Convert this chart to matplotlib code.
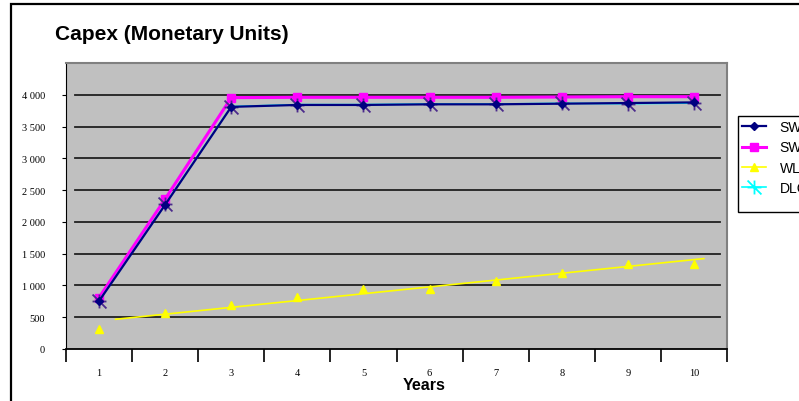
import matplotlib.pyplot as plt
import numpy as np
from matplotlib.patches import Rectangle
from matplotlib.path import Path


YEARS = [1, 2, 3, 4, 5, 6, 7, 8, 9, 10]
SW1 = [755, 2270, 3810, 3840, 3840, 3850, 3850, 3860, 3870, 3880]
SW2 = [810, 2360, 3955, 3960, 3960, 3960, 3960, 3965, 3970, 3970]
WLL = [320, 573, 698, 818, 948, 941, 1070, 1199, 1334, 1334]
DLC = [760, 2275, 3815, 3845, 3845, 3855, 3855, 3865, 3860, 3870]
Y_TICKS = [0, 500, 1000, 1500, 2000, 2500, 3000, 3500, 4000]

SANS = "Liberation Sans"
SERIF = "Liberation Serif"

# Excel-style star: plus sign with one diagonal stroke
STAR = Path(
    [(0, -1), (0, 1), (-1, 0), (1, 0), (-1, 1), (1, -1)],
    [Path.MOVETO, Path.LINETO, Path.MOVETO, Path.LINETO, Path.MOVETO, Path.LINETO],
)


def thousands(v):
    return f"{v:,.0f}".replace(",", " ")


def main():
    W, H = 799, 402
    fig = plt.figure(figsize=(W / 100, H / 100), dpi=100)

    # outer chart frame (runs off the right and bottom edges)
    fig.patches.append(Rectangle((11 / W, -0.2), 1.2, 1.2 - 5 / H,
                                 transform=fig.transFigure, fill=False,
                                 edgecolor="black", linewidth=1.6))

    ax = fig.add_axes([66 / W, 1 - 350 / H, (727 - 66) / W, (350 - 64) / H])
    ax.set_facecolor("#c0c0c0")
    ax.set_xlim(0.5, 10.5)
    ax.set_ylim(0, 4500)

    for side in ("top", "right"):
        ax.spines[side].set_color("#808080")
        ax.spines[side].set_linewidth(1.5)
    ax.spines["left"].set_color("black")
    ax.spines["bottom"].set_color("black")
    ax.spines["bottom"].set_linewidth(1.3)

    for v in Y_TICKS[1:]:
        ax.axhline(v, xmin=0.013, xmax=0.99, color="#202020", linewidth=1.3, zorder=1)

    # category boundaries carry the tick marks, centres carry the labels
    ax.set_xticks(np.arange(0.5, 11, 1))
    ax.set_xticklabels([])
    ax.tick_params(axis="x", which="major", direction="out", length=9, width=1.2)
    ax.set_xticks(YEARS, minor=True)
    ax.set_xticklabels([str(y) for y in YEARS], minor=True, fontfamily=SERIF, fontsize=7.5)
    ax.tick_params(axis="x", which="minor", length=0, pad=14)

    ax.set_yticks(Y_TICKS)
    ax.set_yticklabels([thousands(v) for v in Y_TICKS], fontfamily=SERIF, fontsize=7.5)
    ax.tick_params(axis="y", direction="out", length=3, pad=12)

    sw2_line, = ax.plot(YEARS, SW2, color="#ff00ff", linewidth=2.2, marker="s",
                        markersize=6, zorder=3, label="SW2")
    dlc_line, = ax.plot(YEARS, DLC, color="#00ffff", linewidth=1.2, marker=STAR,
                        markersize=10, markeredgecolor="#4b2a8c", markeredgewidth=1.3,
                        zorder=3.5, label="DLC")
    sw1_line, = ax.plot(YEARS, SW1, color="#000080", linewidth=1.6, marker="D",
                        markersize=4, zorder=4, label="SW1")
    ax.plot(YEARS, WLL, linestyle="none", marker="^", color="#ffff00",
            markersize=6, zorder=3)

    # linear trend for WLL
    slope, intercept = np.polyfit(YEARS, WLL, 1)
    xs = np.array([1.25, 10.15])
    ax.plot(xs, slope * xs + intercept, color="#ffff00", linewidth=1.2, zorder=2.5)
    wll_leg, = ax.plot([], [], color="#ffff00", marker="^", markersize=6, linewidth=1.2)

    fig.text(55 / W, 1 - 34 / H, "Capex (Monetary Units)", fontfamily=SANS,
             fontweight="bold", fontsize=15, va="center", ha="left")
    fig.text(424 / W, 1 - 386 / H, "Years", fontfamily=SANS, fontweight="bold",
             fontsize=11.5, va="center", ha="center")

    fig.patches.append(Rectangle((738 / W, 1 - 213 / H), 0.2, (213 - 117) / H,
                                 transform=fig.transFigure, facecolor="white",
                                 edgecolor="black", linewidth=1.0))
    leg = fig.legend([sw1_line, sw2_line, wll_leg, dlc_line], ["SW1", "SW2", "WLL", "DLC"],
                     loc="upper left", bbox_to_anchor=(738 / W, 1 - 117 / H),
                     frameon=False, prop={"family": SANS, "size": 10},
                     handlelength=1.7, handletextpad=1.0, labelspacing=0.45,
                     borderpad=0.3, borderaxespad=0)
    leg.legend_handles[3].set_markeredgecolor("#00ffff")

    fig.savefig("out.png", dpi=100)
    plt.close(fig)


if __name__ == "__main__":
    main()
